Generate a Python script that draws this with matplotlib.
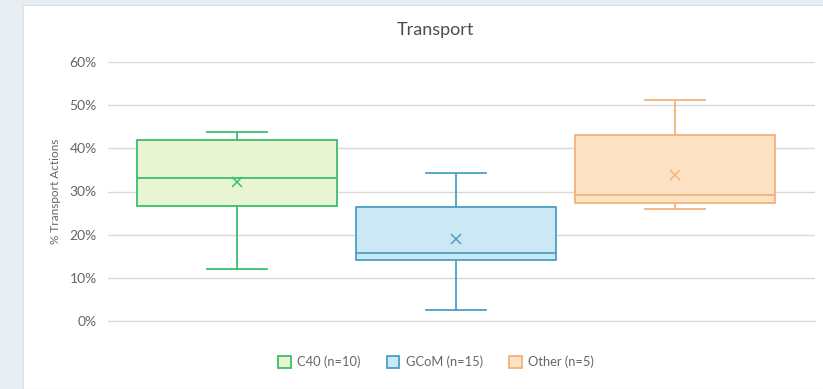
import matplotlib
matplotlib.use("Agg")
import matplotlib.pyplot as plt
from matplotlib.patches import Patch, Rectangle

plt.rcParams['font.family'] = ['Lato', 'DejaVu Sans']

categories = ["C40 (n=10)", "GCoM (n=15)", "Other (n=5)"]
whisker_low = [12.0, 2.5, 25.9]
q1 = [26.6, 14.2, 27.3]
median = [33.1, 15.7, 29.2]
q3 = [41.9, 26.4, 43.1]
whisker_high = [43.7, 34.3, 51.2]
mean = [32.2, 19.0, 33.8]
yticks = [0, 10, 20, 30, 40, 50, 60]

edge_colors = ["#3cbf6a", "#4aa0c4", "#f3b27a"]
fill_colors = ["#e9f4d3", "#cce8f4", "#fde2c4"]

fig = plt.figure(figsize=(8.23, 3.89), dpi=100)
fig.patch.set_facecolor("#e8edf2")
fig.patches.append(Rectangle((23/823, 0.0), 1.0, 1 - 5/389, transform=fig.transFigure,
                             facecolor="white", edgecolor="#dde2e8", lw=0.8, zorder=-1))

ax = fig.add_axes([108/823, 1 - 321/389, (815 - 108)/823, (321 - 62)/389])
ax.set_facecolor("none")

stats = []
for i in range(len(categories)):
    stats.append(dict(label=categories[i], whislo=whisker_low[i], q1=q1[i], med=median[i],
                      q3=q3[i], whishi=whisker_high[i], mean=mean[i], fliers=[]))

positions = list(range(len(categories)))
bp = ax.bxp(stats, positions=positions, widths=0.91, patch_artist=True, showmeans=True,
            showfliers=False, capwidths=0.27)
for i in range(len(categories)):
    bp['boxes'][i].set(facecolor=fill_colors[i], edgecolor=edge_colors[i], linewidth=1.3)
    bp['medians'][i].set(color=edge_colors[i], linewidth=1.3)
    for w in bp['whiskers'][2*i:2*i+2]:
        w.set(color=edge_colors[i], linewidth=1.3)
    for c in bp['caps'][2*i:2*i+2]:
        c.set(color=edge_colors[i], linewidth=1.3)
    bp['means'][i].set(marker='x', markeredgecolor=edge_colors[i], markersize=7,
                       markeredgewidth=1.1)

ax.set_xlim(-0.589, 2.639)
ax.set_ylim(0, 60)
ax.set_yticks(yticks)
ax.set_yticklabels([f"{t}%" for t in yticks], fontsize=10, color="#666666")
ax.set_xticks([])
ax.yaxis.grid(True, color="#d9d9d9", linewidth=1)
ax.set_axisbelow(True)
for s in ["top", "right", "left"]:
    ax.spines[s].set_visible(False)
ax.spines["bottom"].set_color("#d9d9d9")
ax.tick_params(axis='y', length=0, pad=8)
ax.set_ylabel("% Transport Actions", fontsize=8.5, color="#666666", labelpad=6)

fig.text(435/823, 1 - 30/389, "Transport", ha="center", va="center", fontsize=13, color="#4d4d4d")

handles = [Patch(facecolor=fill_colors[i], edgecolor=edge_colors[i], linewidth=1.3,
                 label=categories[i]) for i in range(len(categories))]
fig.legend(handles=handles, loc="center", bbox_to_anchor=(436/823, 1 - 362/389), ncol=3,
           frameon=False, fontsize=9.3, labelcolor="#666666", handlelength=1.0, handleheight=1.0,
           handletextpad=0.5, columnspacing=2.0)

fig.savefig("out.png", dpi=100)
